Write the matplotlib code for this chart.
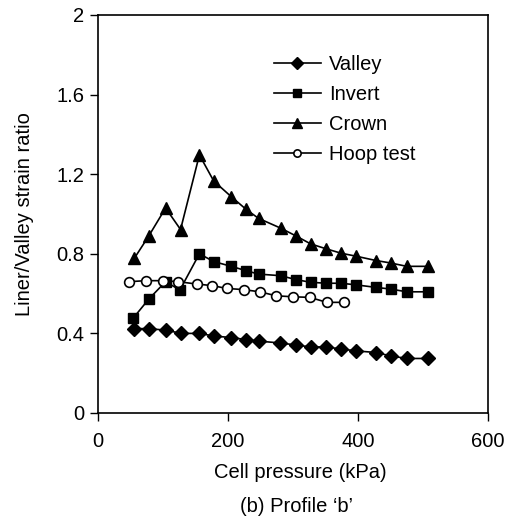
import numpy as np
import matplotlib.pyplot as plt

plt.rcParams['font.family'] = ['Liberation Sans', 'DejaVu Sans']

# data
valley_x = [55, 78, 105, 128, 156, 178, 205, 228, 248, 280, 304, 327, 350, 374, 397, 428, 450, 475, 507]
valley_y = [0.424, 0.424, 0.416, 0.40, 0.40, 0.387, 0.379, 0.369, 0.361, 0.352, 0.342, 0.332, 0.332,
            0.322, 0.312, 0.304, 0.287, 0.274, 0.274]

invert_x = [54, 78, 104, 126, 156, 178, 205, 228, 247, 281, 305, 327, 351, 374, 397, 428, 450, 475, 508]
invert_y = [0.476, 0.572, 0.660, 0.618, 0.80, 0.761, 0.737, 0.715, 0.698, 0.690, 0.670, 0.657, 0.652,
            0.652, 0.644, 0.631, 0.623, 0.609, 0.609]

crown_x = [56, 78, 104, 127, 156, 178, 205, 228, 247, 281, 305, 327, 351, 374, 397, 428, 450, 475, 508]
crown_y = [0.778, 0.889, 1.030, 0.922, 1.297, 1.166, 1.087, 1.023, 0.978, 0.929, 0.889, 0.850, 0.825,
           0.803, 0.788, 0.766, 0.754, 0.737, 0.737]

hoop_x = [48, 74, 100, 123, 152, 176, 198, 224, 249, 274, 300, 326, 352, 379]
hoop_y = [0.660, 0.665, 0.665, 0.660, 0.648, 0.640, 0.626, 0.620, 0.609, 0.589, 0.584, 0.581, 0.556, 0.556]

fs = 14.5

fig = plt.figure(figsize=(5.12, 5.2), dpi=100)
ax = fig.add_axes([98/512, 1-413/520, 390/512, 398/520])

ax.plot(valley_x, valley_y, color='black', lw=1.2, marker='D', ms=7.5, label='Valley')
ax.plot(invert_x, invert_y, color='black', lw=1.2, marker='s', ms=7.5, label='Invert')
ax.plot(crown_x, crown_y, color='black', lw=1.2, marker='^', ms=9, label='Crown')
ax.plot(hoop_x, hoop_y, color='black', lw=1.2, marker='o', ms=7, mfc='white', mew=1.2, label='Hoop test')

ax.set_xlim(0, 600)
ax.set_ylim(0, 2)
ax.set_xticks([0, 200, 400, 600])
ax.set_yticks([0, 0.4, 0.8, 1.2, 1.6, 2])
ax.set_yticklabels(['0', '0.4', '0.8', '1.2', '1.6', '2'])
ax.tick_params(direction='out', length=6, width=1, labelsize=fs, colors='black', pad=4)
ax.tick_params(axis='x', pad=8)
for s in ax.spines.values():
    s.set_linewidth(1.2)

ax.set_xlabel('Cell pressure (kPa)', fontsize=fs)
ax.set_ylabel('Liner/Valley strain ratio', fontsize=fs)
ax.xaxis.set_label_coords(0.52, -0.125)
ax.yaxis.set_label_coords(-0.165, 0.5)

ax.legend(loc='upper left', bbox_to_anchor=(0.45, 0.90), frameon=False, fontsize=fs,
          handlelength=2.35, markerscale=0.75, labelspacing=0.55, handletextpad=0.4,
          borderpad=0, borderaxespad=0)

fig.text(296/512, 1-507/520, '(b) Profile \u2018b\u2019', ha='center', va='center', fontsize=fs)

fig.savefig('out.png', dpi=100)
